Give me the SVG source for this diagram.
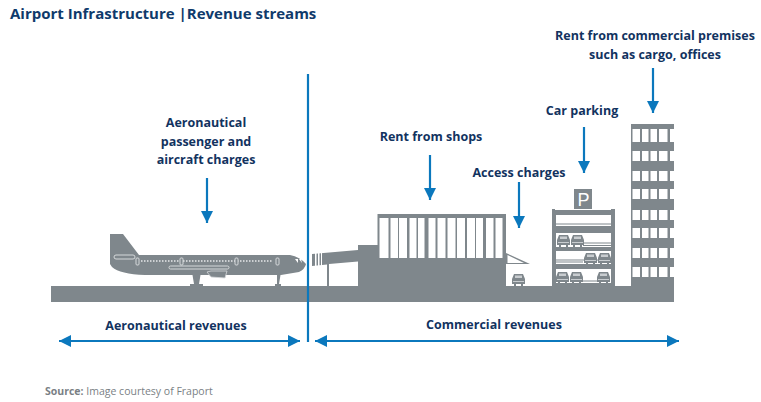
<svg xmlns="http://www.w3.org/2000/svg" width="761" height="402" viewBox="0 0 761 402">
<style>
text{font-family:"Open Sans","Liberation Sans",sans-serif;font-weight:700;fill:#12335f;font-size:12.5px;text-anchor:middle}
.title{font-size:15px;text-anchor:start;fill:#0f3a6b}
.src{font-size:10.5px;font-weight:400;text-anchor:start;fill:#7a7f85}
.src-b{font-weight:700}
.g{fill:#7f878c}
.w{fill:#fff}
.l{stroke:#0b78bd;stroke-width:2.2;fill:none}
.gl{stroke:#7f878c;stroke-width:1;fill:none}
</style>
<defs>
<marker id="arr" markerUnits="userSpaceOnUse" markerWidth="12" markerHeight="12" refX="10" refY="5" orient="auto-start-reverse" viewBox="0 0 10 10"><path d="M0 0L10 5L0 10Z" fill="#0b78bd"/></marker>
<g id="car"><path class="g" d="M0 5L2 0H11L13 5V10H11V12H9V10H4V12H2V10H0Z"/><rect x="3" y="1.500" width="7" height="2.500" fill="#c9cdd0"/><rect x="1" y="7" width="11" height="1" fill="#c9cdd0"/></g>
<rect id="band" class="g" x="631" y="0" width="43" height="1"/>
<path id="winrow" class="w" d="M632.500 0H640V10H632.500ZM642 0H648.500V10H642ZM650.500 0H657V10H650.500ZM659 0H667.500V10H659Z"/>
</defs>
<text class="title" x="10" y="19">Airport Infrastructure  |Revenue streams</text>

<g id="ground"><rect class="g" x="51" y="286" width="623" height="16"/></g>

<g id="aircraft">
<path class="g" d="M110 234H123L139 255H290Q300 257 306 264Q305 269 299 272L281 275H145Q120 274 112 267L110 264Z"/>
<path class="g" d="M192 272H201L199 284H203V286H190V284H194ZM277 272H281L279 284H281V286H275V284H277Z"/>
<rect x="114" y="255" width="21" height="4" rx="2" fill="none" stroke="#d5d8da"/>
<rect x="169" y="266" width="60" height="3" rx="1.500" fill="none" stroke="#d5d8da"/>
<path d="M207 272L211 271H227L225 278L211 277Z" fill="#7f878c" stroke="#d5d8da" stroke-width="0.8"/>
<path d="M141 261H273" stroke="#e7e9ea" stroke-width="1.500" stroke-dasharray="1.500 1.500" fill="none"/>
<rect x="136" y="258" width="3" height="7" rx="1" fill="#7f878c" stroke="#d5d8da"/>
<rect x="180" y="258" width="3" height="7" rx="1" fill="#7f878c" stroke="#d5d8da"/>
<rect x="235" y="258" width="3" height="7" rx="1" fill="#7f878c" stroke="#d5d8da"/>
<rect x="276" y="258" width="3" height="7" rx="1" fill="#7f878c" stroke="#d5d8da"/>
<path class="w" d="M295 259L298 259L298 263ZM299 259L301 259L302 263Z"/>
</g>

<g id="terminal">
<path class="g" d="M312 254L358 250V245H377.500V214H506V253L530 264H506V286H358V261.500L329 264V286H327V264.500L312 266Z"/>
<path class="w" d="M315 252V267H316.500V252ZM318 252V267H319.500V252ZM321 252V267H322V252Z"/>
<path class="w" d="M507.500 255L524 263H507.500Z"/>
<g class="w">
<rect x="379.500" y="218" width="9" height="40"/><rect x="390.500" y="218" width="7.500" height="40"/><rect x="399" y="218" width="8" height="40"/>
<rect x="409.500" y="218" width="7" height="40"/><rect x="418" y="218" width="6.500" height="40"/><rect x="428.500" y="218" width="7" height="40"/>
<rect x="437.500" y="218" width="8" height="40"/><rect x="447.500" y="218" width="8" height="40"/><rect x="457" y="218" width="8" height="40"/>
<rect x="467" y="218" width="8" height="40"/><rect x="476" y="218" width="7" height="40"/><rect x="486" y="218" width="7.500" height="40"/><rect x="495.500" y="218" width="7" height="40"/>
</g>
<use href="#car" x="512" y="274"/>
</g>

<g id="car-park">
<path class="g" d="M552 209H555V210H611V209H615V286H552Z"/>
<rect class="g" x="574" y="189" width="18" height="20"/>
<text x="583.500" y="206" style="fill:#fff;font-weight:400;font-size:18px;font-family:'Liberation Sans',sans-serif">P</text>
<g class="w">
<rect x="556" y="215" width="55" height="11"/><rect x="556" y="233" width="55" height="14"/><rect x="556" y="251" width="55" height="13"/><rect x="556" y="269" width="55" height="14"/>
</g>
<path class="gl" d="M556 224H611M583 243H611M583 245.500H611M556 260H611M556 262H583M582 281H600"/>
<use href="#car" x="557" y="235"/><use href="#car" x="571" y="235"/>
<use href="#car" x="584" y="253"/><use href="#car" x="598" y="253"/>
<use href="#car" x="556" y="272"/><use href="#car" x="570" y="272"/><use href="#car" x="597" y="272"/>
</g>

<g id="tower">
<rect class="g" x="631" y="124" width="39" height="162"/>
<rect class="g" x="631" y="124" width="43" height="5"/>
<rect class="g" x="631" y="142" width="43" height="9"/><rect class="g" x="631" y="161" width="43" height="10"/><rect class="g" x="631" y="181" width="43" height="8"/><rect class="g" x="631" y="199" width="43" height="11"/><rect class="g" x="631" y="220" width="43" height="8"/><rect class="g" x="631" y="238" width="43" height="10"/><rect class="g" x="631" y="258" width="43" height="9"/><rect class="g" x="631" y="277" width="43" height="9"/>
<path class="w" d="M632.500 129H640V142H632.500ZM642 129H648.500V142H642ZM650.500 129H657V142H650.500ZM659 129H667.500V142H659Z"/>
<use href="#winrow" y="151"/><use href="#winrow" y="171"/><use href="#winrow" y="189"/><use href="#winrow" y="210"/><use href="#winrow" y="228"/><use href="#winrow" y="248"/><use href="#winrow" y="267"/>
</g>

<g id="connectors">
<path class="l" d="M308 74V342"/>
<path class="l" marker-end="url(#arr)" d="M207 178V223"/>
<path class="l" marker-end="url(#arr)" d="M430 155V200"/>
<path class="l" marker-end="url(#arr)" d="M519 182V228"/>
<path class="l" marker-end="url(#arr)" d="M584 127V173"/>
<path class="l" marker-end="url(#arr)" d="M653 68V113"/>
<path class="l" marker-start="url(#arr)" marker-end="url(#arr)" d="M59 341H300"/>
<path class="l" marker-start="url(#arr)" marker-end="url(#arr)" d="M315 341H679"/>
</g>

<g id="labels">
<text x="206" y="127">Aeronautical</text>
<text x="206" y="146">passenger and</text>
<text x="206" y="164">aircraft charges</text>
<text x="431" y="141">Rent from shops</text>
<text x="519" y="177">Access charges</text>
<text x="582" y="115">Car parking</text>
<text x="655" y="40">Rent from commercial premises</text>
<text x="655" y="59">such as cargo, offices</text>
<text x="176" y="330">Aeronautical revenues</text>
<text x="494" y="329">Commercial revenues</text>
<text class="src" x="45" y="395"><tspan class="src-b">Source:</tspan> Image courtesy of Fraport</text>
</g>
</svg>
